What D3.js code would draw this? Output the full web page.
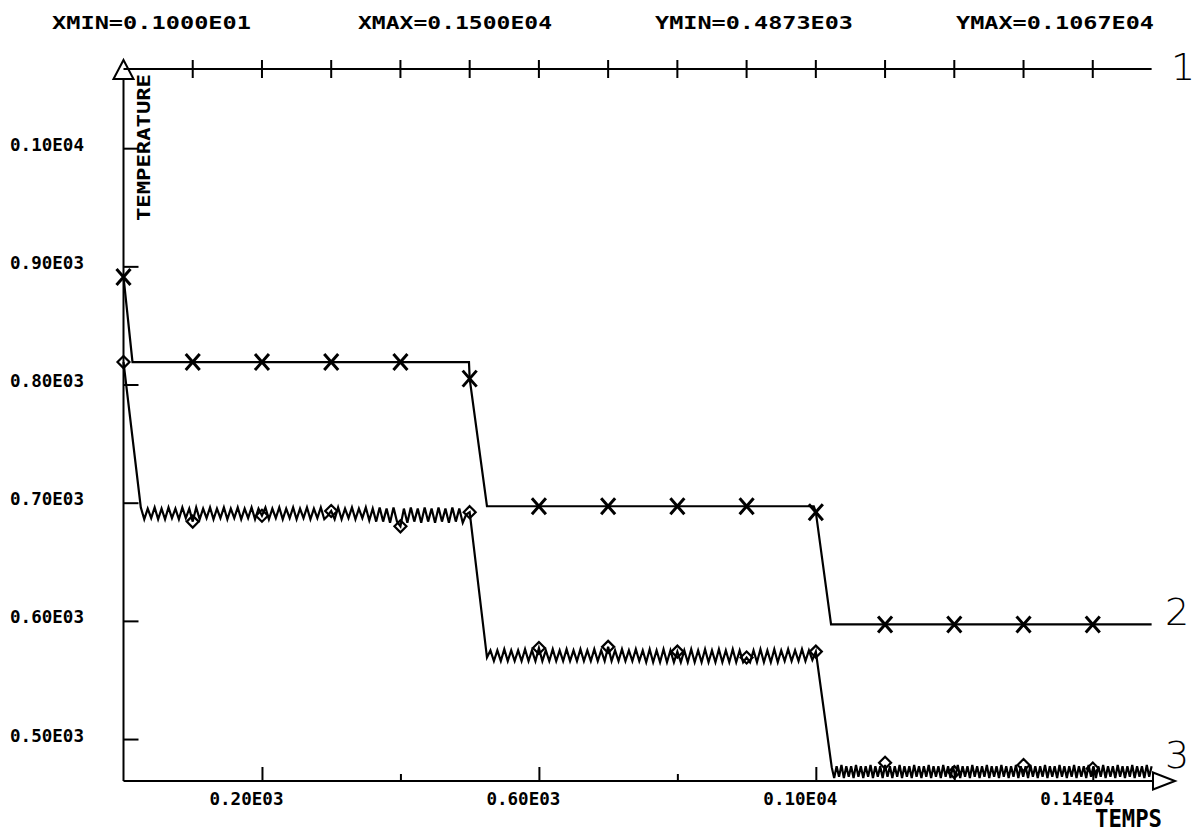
<!DOCTYPE html>
<html><head><meta charset="utf-8">
<script src="https://cdn.jsdelivr.net/npm/d3@7"></script>
<style>
html,body{margin:0;padding:0;background:#fff;}
svg{display:block;}
</style></head><body>
<svg id="chart" width="1194" height="834"></svg>
<script>
// ---------------- DATA ----------------
const headerLabels = ["XMIN=0.1000E01", "XMAX=0.1500E04", "YMIN=0.4873E03", "YMAX=0.1067E04"];
const xAxisTitle = "TEMPS";
const yAxisTitle = "TEMPERATURE";
const seriesNames = ["1", "2", "3"];

const xMajorTicks = [200, 600, 1000, 1400];
const xTickLabels = ["0.20E03", "0.60E03", "0.10E04", "0.14E04"];
const xMinorTicks = [400, 800, 1200];
const yTicks = [1000, 900, 800, 700, 600, 500];
const yTickLabels = ["0.10E04", "0.90E03", "0.80E03", "0.70E03", "0.60E03", "0.50E03"];

// series 1 (+)
const s1Time = [0, 1485];
const s1Temp = [1067, 1067];
const s1MarkerTime = [100, 200, 300, 400, 500, 600, 700, 800, 900, 1000, 1100, 1200, 1300, 1400];
const s1MarkerTemp = [1067, 1067, 1067, 1067, 1067, 1067, 1067, 1067, 1067, 1067, 1067, 1067, 1067, 1067];

// series 2 (x)
const s2Time = [0, 13, 499, 500, 525, 997, 1000, 1022, 1485];
const s2Temp = [891, 819, 819, 805, 697, 697, 692, 597, 597];
const s2MarkerTime = [0, 100, 200, 300, 400, 500, 600, 700, 800, 900, 1000, 1100, 1200, 1300, 1400];
const s2MarkerTemp = [891, 819, 819, 819, 819, 805, 697, 697, 697, 697, 692, 597, 597, 597, 597];

// series 3 (diamond, oscillating)
const s3HeadTime = [0];
const s3HeadTemp = [819];
const s3A_start = 25, s3A_step = 5;
const s3A_temp = [
  696,686,695,687,696,686,695,686,696,687,
  695,686,696,687,695,684,696,686,695,687,
  696,686,695,687,696,686,695,687,696,686,
  695,687,696,686,695,689,696,686,695,687,
  696,686,695,687,696,686,695,687,696,686,
  695,687,696,686,689,693,686,696,686,695,
  687,696,686,695,687,696,685,695,684,696,
  684,695,683,696,684,680,695,683,696,684,
  695,683,696,684,695,683,696,684,695,683,
  696,684,695,683,690,692];
const s3B_start = 525, s3B_step = 5;
const s3B_temp = [
  569,575,566,575,566,576,566,575,566,575,
  566,576,566,575,566,577,566,575,566,576,
  566,575,566,576,566,575,566,576,566,575,
  566,576,566,575,566,578,566,575,566,576,
  566,575,566,576,566,575,565,576,565,575,
  565,576,565,575,565,574,565,575,565,576,
  565,575,565,576,565,575,565,576,565,575,
  565,576,565,575,565,569,565,575,565,576,
  565,575,565,576,565,575,566,576,566,575,
  566,576,566,575,567,574];
const s3C_start = 1023, s3C_step = 3.5;
const s3C_temp = [
  476,467,477,468,478,467,477,468,477,467,
  478,468,477,467,477,468,478,467,477,468,
  477,467,478,468,477,467,477,468,478,467,
  477,468,477,467,478,468,477,467,477,468,
  478,467,477,468,477,467,478,468,477,467,
  477,468,478,467,477,468,477,467,478,468,
  477,467,477,468,478,467,477,468,477,467,
  478,468,477,467,477,468,478,467,477,468,
  477,467,478,468,477,467,477,468,478,467,
  477,468,477,467,478,468,477,467,477,468,
  478,467,477,468,477,467,478,468,477,467,
  477,468,478,467,477,468,477,467,478,468,
  477,467,477,468,478,467,477,468,477,467,
  478,468,477];
const s3MarkerTime = [0, 100, 200, 300, 400, 500, 600, 700, 800, 900, 1000, 1100, 1200, 1300, 1400];
const s3MarkerTemp = [819, 684, 689, 693, 680, 692, 577, 578, 574, 569, 574, 480, 472, 478, 475];

// ---------------- CHART ----------------
const W = 1194, H = 834;
const svg = d3.select("#chart");
svg.append("rect").attr("width", W).attr("height", H).attr("fill", "#fff");

const x = d3.scaleLinear().domain([0, 1500]).range([123.5, 1162]);
const y = d3.scaleLinear().domain([464.5, 1067]).range([781, 69]);
const x0 = x(0), y0 = y(464.5);
const monoFont = "'DejaVu Sans Mono', monospace";

// axes lines and arrows
svg.append("line").attr("x1", x0).attr("x2", x0).attr("y1", y0).attr("y2", 79)
  .attr("stroke", "#000").attr("stroke-width", 2);
svg.append("line").attr("x1", x0).attr("x2", 1153).attr("y1", y0).attr("y2", y0)
  .attr("stroke", "#000").attr("stroke-width", 2);
svg.append("path").attr("d", `M${x0},60L${x0 + 10},79L${x0 - 10},79Z`)
  .attr("fill", "none").attr("stroke", "#000").attr("stroke-width", 2);
svg.append("path").attr("d", `M1153,${y0 - 8.5}L1175,${y0}L1153,${y0 + 8.5}Z`)
  .attr("fill", "none").attr("stroke", "#000").attr("stroke-width", 2);

// x axis (major ticks with labels)
const gx = svg.append("g").attr("transform", `translate(0,${y0})`)
  .call(d3.axisBottom(x).tickValues(xMajorTicks).tickSize(-14).tickFormat((d, i) => xTickLabels[i]));
gx.select(".domain").remove();
gx.selectAll(".tick line").attr("stroke", "#000").attr("stroke-width", 2);
gx.selectAll(".tick text").attr("y", 24).attr("dy", 0).attr("dx", -16)
  .attr("font-family", monoFont).attr("font-weight", "bold").attr("font-size", 17)
  .attr("fill", "#000").attr("textLength", 74).attr("lengthAdjust", "spacingAndGlyphs");
// minor ticks
const gxm = svg.append("g").attr("transform", `translate(0,${y0})`)
  .call(d3.axisBottom(x).tickValues(xMinorTicks).tickSize(-7).tickFormat(""));
gxm.select(".domain").remove();
gxm.selectAll(".tick line").attr("stroke", "#000").attr("stroke-width", 2);

// y axis
const gy = svg.append("g").attr("transform", `translate(${x0},0)`)
  .call(d3.axisLeft(y).tickValues(yTicks).tickSize(-15).tickFormat((d, i) => yTickLabels[i]));
gy.select(".domain").remove();
gy.selectAll(".tick line").attr("stroke", "#000").attr("stroke-width", 2);
gy.selectAll(".tick text").attr("x", 84 - x0).attr("y", 2).attr("dy", 0)
  .attr("font-family", monoFont).attr("font-weight", "bold").attr("font-size", 17)
  .attr("fill", "#000").attr("textLength", 74).attr("lengthAdjust", "spacingAndGlyphs");

// header
const headerPos = [[52, 199], [358, 194], [655, 198], [956, 198]];
svg.append("g").selectAll("text").data(headerLabels).join("text")
  .attr("x", (d, i) => headerPos[i][0]).attr("y", 29)
  .attr("textLength", (d, i) => headerPos[i][1]).attr("lengthAdjust", "spacingAndGlyphs")
  .attr("font-family", monoFont).attr("font-weight", "bold").attr("font-size", 18)
  .attr("fill", "#000").text(d => d);

// axis titles
svg.append("text").attr("transform", "translate(150,221) rotate(-90)")
  .attr("font-family", monoFont).attr("font-weight", "bold").attr("font-size", 18)
  .attr("textLength", 147).attr("lengthAdjust", "spacingAndGlyphs")
  .attr("fill", "#000").text(yAxisTitle);
svg.append("text").attr("x", 1095).attr("y", 827)
  .attr("font-family", monoFont).attr("font-weight", "bold").attr("font-size", 24)
  .attr("textLength", 67).attr("lengthAdjust", "spacingAndGlyphs")
  .attr("fill", "#000").text(xAxisTitle);

// series lines
const line = d3.line().x(d => x(d[0])).y(d => y(d[1]));
const s1 = s1Time.map((t, i) => [t, s1Temp[i]]);
const s2 = s2Time.map((t, i) => [t, s2Temp[i]]);
const s3 = [];
s3HeadTime.forEach((t, i) => s3.push([t, s3HeadTemp[i]]));
s3A_temp.forEach((v, i) => s3.push([s3A_start + i * s3A_step, v]));
s3B_temp.forEach((v, i) => s3.push([s3B_start + i * s3B_step, v]));
s3C_temp.forEach((v, i) => s3.push([s3C_start + i * s3C_step, v]));

svg.append("path").attr("d", line(s1)).attr("fill", "none").attr("stroke", "#000").attr("stroke-width", 2);
svg.append("path").attr("d", line(s2)).attr("fill", "none").attr("stroke", "#000").attr("stroke-width", 2.2);
svg.append("path").attr("d", line(s3)).attr("fill", "none").attr("stroke", "#000")
  .attr("stroke-width", 2.2).attr("stroke-linejoin", "miter");

// markers
function markers(times, temps, pathD, sw) {
  svg.append("g").selectAll("path").data(times.map((t, i) => [t, temps[i]])).join("path")
    .attr("transform", d => `translate(${x(d[0])},${y(d[1])})`)
    .attr("d", pathD).attr("fill", "none").attr("stroke", "#000").attr("stroke-width", sw);
}
markers(s1MarkerTime, s1MarkerTemp, "M0,-9V9M-5,0H5", 2);
markers(s2MarkerTime, s2MarkerTemp, "M-7,-8L7,8M-7,8L7,-8", 3);
markers(s3MarkerTime, s3MarkerTemp, "M0,-6L6,0L0,6L-6,0Z", 2.2);

// series end labels
const nameX = [1171, 1165, 1165], nameY = [80, 625, 768];
svg.append("g").selectAll("text").data(seriesNames).join("text")
  .attr("x", (d, i) => nameX[i]).attr("y", (d, i) => nameY[i])
  .attr("font-family", "'DejaVu Sans', sans-serif").attr("font-weight", 200)
  .attr("font-size", 38).attr("fill", "#000").text(d => d);
</script>
</body></html>
